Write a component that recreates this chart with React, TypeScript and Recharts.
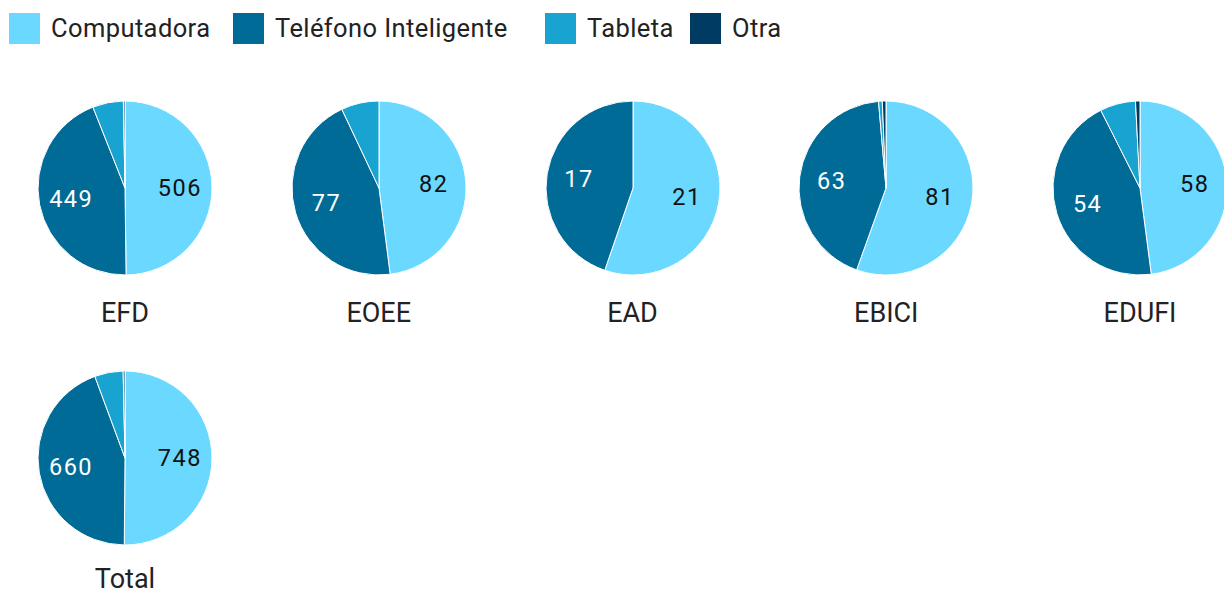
import React from "react";
import { PieChart, Pie, Cell } from "recharts";

const groups = ["EFD", "EOEE", "EAD", "EBICI", "EDUFI", "Total"];
const categories = ["Computadora", "Teléfono Inteligente", "Tableta", "Otra"];
const computadora = [506, 82, 21, 81, 58, 748];
const telefono = [449, 77, 17, 63, 54, 660];
const tableta = [58, 12, 0, 1, 8, 79];
const otra = [3, 0, 0, 1, 1, 5];

const colors = ["#6AD8FF", "#006B96", "#19A3D1", "#003B63"];
const labelColors = ["#111", "#fff", "#fff", "#fff"];
const legendX = [9, 233, 545, 690];
const RAD = Math.PI / 180;
const FONT = "Roboto, 'Noto Sans', sans-serif";

const renderLabel = (p: any) => {
  if (p.percent < 0.1) return null;
  const r = p.outerRadius * 0.63;
  const x = p.cx + r * Math.cos(-p.midAngle * RAD);
  const y = p.cy + r * Math.sin(-p.midAngle * RAD);
  return (
    <text
      x={x}
      y={y}
      fill={labelColors[p.index]}
      textAnchor="middle"
      dominantBaseline="central"
      style={{ fontFamily: FONT, fontSize: 23.5, letterSpacing: 1.5 }}
    >
      {p.value}
    </text>
  );
};

const Legend = () => (
  <>
    {categories.map((c, i) => (
      <div
        key={c}
        style={{
          position: "absolute",
          left: legendX[i],
          top: 13,
          display: "flex",
          alignItems: "center",
          lineHeight: "31px",
          fontFamily: FONT,
          fontSize: 25.5,
          letterSpacing: 0.4,
          color: "#222",
          whiteSpace: "nowrap",
        }}
      >
        <div style={{ width: 31, height: 31, background: colors[i], marginRight: 11 }} />
        <span>{c}</span>
      </div>
    ))}
  </>
);

export default function App() {
  return (
    <div style={{ position: "absolute", left: 0, top: 0, width: 1224, height: 597, background: "#fff", overflow: "hidden" }}>
      <Legend />
      {groups.map((g, i) => {
        const data = categories.map((c, k) => ({
          name: c,
          value: [computadora, telefono, tableta, otra][k][i],
        }));
        const col = i % 5;
        const row = Math.floor(i / 5);
        const cx = 125 + col * 253.75;
        const cy = 188 + row * 270;
        return (
          <div key={g}>
            <div style={{ position: "absolute", left: cx - 100, top: cy - 100 }}>
              <PieChart width={200} height={200} margin={{ top: 0, right: 0, bottom: 0, left: 0 }}>
                <Pie
                  data={data}
                  dataKey="value"
                  cx={100}
                  cy={100}
                  outerRadius={87}
                  startAngle={90}
                  endAngle={-270}
                  stroke="#fff"
                  strokeWidth={1}
                  labelLine={false}
                  label={renderLabel}
                  isAnimationActive={false}
                >
                  {data.map((d, k) => (
                    <Cell key={d.name} fill={colors[k]} />
                  ))}
                </Pie>
              </PieChart>
            </div>
            <div
              style={{
                position: "absolute",
                left: cx - 100,
                top: cy + 115 - row * 4,
                width: 200,
                textAlign: "center",
                fontFamily: FONT,
                fontSize: 27,
                lineHeight: "20px",
                color: "#222",
              }}
            >
              {g}
            </div>
          </div>
        );
      })}
    </div>
  );
}
